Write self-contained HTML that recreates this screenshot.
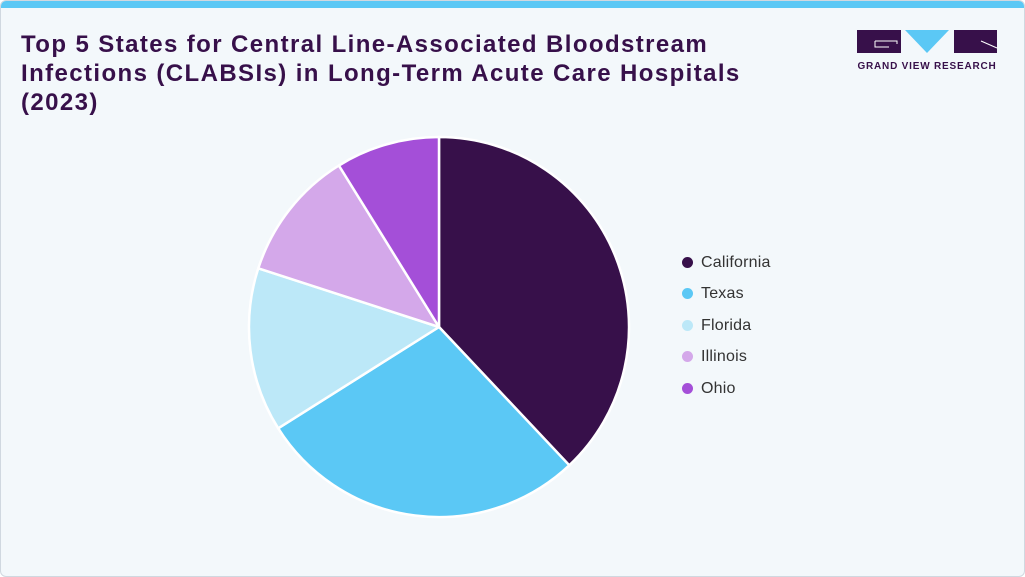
<!DOCTYPE html>
<html><head><meta charset="utf-8"><style>
body{margin:0;width:1025px;height:577px;background:#fff;font-family:"Liberation Sans",sans-serif;overflow:hidden}
.card{position:absolute;left:0;top:0;width:1023px;height:575px;border:1px solid #d0d8e0;border-radius:6px;background:#f3f8fb;overflow:hidden}
.bar{position:absolute;left:0;top:0;width:100%;height:7px;background:#5bc8f5}
h1{position:absolute;left:20px;top:29px;margin:0;font-size:24px;letter-spacing:1.4px;line-height:29px;color:#37104a;font-weight:bold;white-space:nowrap}
.leg{position:absolute;left:681px;font-size:16px;color:#333;letter-spacing:0.2px}
.leg i{display:inline-block;width:11px;height:11px;border-radius:50%;margin-right:8px;vertical-align:-1px}
</style></head><body><div class="card"><div class="bar"></div>
<h1>Top 5 States for Central Line-Associated Bloodstream<br>Infections (CLABSIs) in Long-Term Acute Care Hospitals<br>(2023)</h1>
<svg width="1025" height="577" style="position:absolute;left:0;top:0">
<g stroke="#fff" stroke-width="2.5" stroke-linejoin="round">
<path d="M438,326 L438,136 A190,190 0 0 1 568.3,464.3 Z" fill="#37104a"/>
<path d="M438,326 L568.3,464.3 A190,190 0 0 1 277.2,427.3 Z" fill="#5bc8f5"/>
<path d="M438,326 L277.2,427.3 A190,190 0 0 1 257.3,267.3 Z" fill="#bce8f8"/>
<path d="M438,326 L257.3,267.3 A190,190 0 0 1 337.9,164.5 Z" fill="#d4a8ea"/>
<path d="M438,326 L337.9,164.5 A190,190 0 0 1 438,136 Z" fill="#a44fd8"/>
</g>
<rect x="856" y="29" width="44" height="23" fill="#37104a"/>
<path d="M874,40 h22 v3 M874,40 v6 h14" stroke="#fff" stroke-width="1" fill="none"/>
<polygon points="904,29 948,29 926,52" fill="#5bc8f5"/>
<rect x="953" y="29" width="43" height="23" fill="#37104a"/>
<path d="M980,40 L996,47" stroke="#fff" stroke-width="1"/>
<text x="926" y="68" font-family="Liberation Sans" font-weight="bold" font-size="10" fill="#37104a" text-anchor="middle" letter-spacing="0.8">GRAND VIEW RESEARCH</text>
</svg>
<div class="leg" style="top:253px"><i style="background:#37104a"></i>California</div>
<div class="leg" style="top:284px"><i style="background:#5bc8f5"></i>Texas</div>
<div class="leg" style="top:316px"><i style="background:#bce8f8"></i>Florida</div>
<div class="leg" style="top:347px"><i style="background:#d4a8ea"></i>Illinois</div>
<div class="leg" style="top:379px"><i style="background:#a44fd8"></i>Ohio</div>
</div></body></html>
